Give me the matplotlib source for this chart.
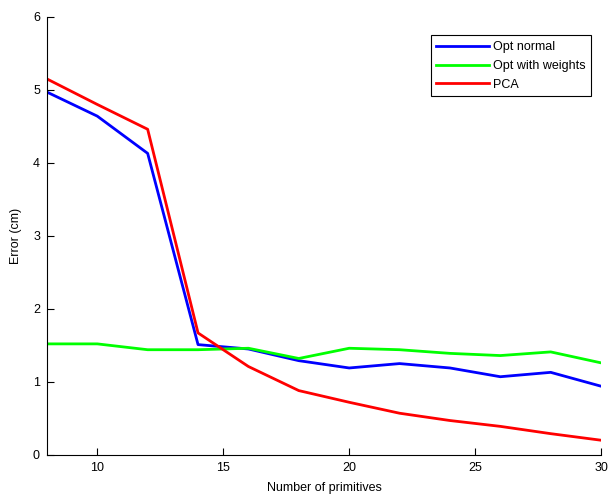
import matplotlib
matplotlib.use("Agg")
import matplotlib.pyplot as plt

plt.rcParams["font.family"] = ["Liberation Sans", "DejaVu Sans"]
plt.rcParams["font.size"] = 9

x = [8, 10, 12, 14, 16, 18, 20, 22, 24, 26, 28, 30]
opt_normal = [4.97, 4.64, 4.13, 1.51, 1.45, 1.29, 1.19, 1.25, 1.19, 1.07, 1.13, 0.94]
opt_weights = [1.52, 1.52, 1.44, 1.44, 1.46, 1.32, 1.46, 1.44, 1.39, 1.36, 1.41, 1.26]
pca = [5.15, 4.80, 4.46, 1.67, 1.21, 0.88, 0.72, 0.57, 0.47, 0.39, 0.29, 0.20]

fig = plt.figure(figsize=(6.09, 4.96), dpi=100)
ax = fig.add_axes([0.077, 0.083, 0.91, 0.883])

ax.plot(x, opt_normal, color=(0, 0, 1), lw=2, label="Opt normal")
ax.plot(x, opt_weights, color=(0, 1, 0), lw=2, label="Opt with weights")
ax.plot(x, pca, color=(1, 0, 0), lw=2, label="PCA")

ax.set_xlim(8, 30)
ax.set_ylim(0, 6)
ax.set_xticks([10, 15, 20, 25, 30])
ax.set_yticks(range(0, 7))
ax.tick_params(direction="in", length=5, width=0.8, pad=5)
ax.spines["top"].set_visible(False)
ax.spines["right"].set_visible(False)
ax.set_xlabel("Number of primitives", labelpad=6)
ax.set_ylabel("Error (cm)", labelpad=8)

leg = ax.legend(loc="upper right", bbox_to_anchor=(0.993, 0.972), fancybox=False,
                edgecolor="black", framealpha=1, borderpad=0.45, handlelength=4.2,
                handletextpad=0.3, labelspacing=0.55)
leg.get_frame().set_linewidth(0.8)

plt.savefig("out.png")
